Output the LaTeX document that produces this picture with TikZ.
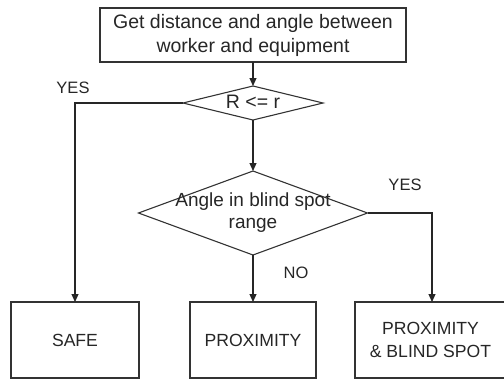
\documentclass[tikz,border=0pt]{standalone}
\usepackage{fontspec}
\setmainfont{Liberation Sans}
\usetikzlibrary{shapes.geometric,arrows.meta}
\begin{document}
\begin{tikzpicture}[x=1pt,y=-1pt,
  every node/.style={inner sep=0pt,outer sep=0pt,text=black!85},
  box/.style={draw=black!80,line width=1.1pt,rectangle},
  dia/.style={draw=black!80,line width=1.1pt,diamond},
  lbl/.style={font=\fontsize{16.5}{18}\selectfont},
  conn/.style={draw=black!85,line width=1.1pt},
  arr/.style={conn,-{Triangle[length=8pt,width=7pt]}}]
\useasboundingbox (0,0) rectangle (504,381);
\node[box,minimum width=306pt,minimum height=54pt,align=center,
  font=\fontsize{19.5}{24}\selectfont] (top) at (253,35)
  {Get distance and angle between\\worker and equipment};
\node[dia,minimum width=140pt,minimum height=34pt] (d1) at (253,103) {};
\node[font=\fontsize{19.5}{24}\selectfont] (d1t) at (253,102) {R <= r};
\node[dia,minimum width=229pt,minimum height=84pt] (d2) at (253,213) {};
\node[align=center,font=\fontsize{19}{22}\selectfont] (d2t) at (253,213)
  {Angle in blind spot\\range};
\node[box,minimum width=128pt,minimum height=76pt,font=\fontsize{17.6}{22}\selectfont]
  (safe) at (75,340) {SAFE};
\node[box,minimum width=126pt,minimum height=76pt,font=\fontsize{17.6}{22}\selectfont]
  (prox) at (253,340) {PROXIMITY};
\node[box,minimum width=151pt,minimum height=76pt,align=center,
  font=\fontsize{17.6}{23}\selectfont]
  (pbs) at (430.5,340) {PROXIMITY\\\& BLIND SPOT};
\coordinate (c1) at (75,103);
\coordinate (c2) at (432,213);
\draw[arr] (top.south) -- (d1.north);
\draw[arr] (d1.south) -- (d2.north);
\draw[arr] (d1.west) -- (c1) -- (c1 |- safe.north);
\draw[arr] (d2.east) -- (c2) -- (c2 |- pbs.north);
\draw[arr] (d2.south) -- (prox.north);
\node[lbl] (yes1) at (73,88) {YES};
\node[lbl] (yes2) at (405,185) {YES};
\node[lbl] (no) at (296,273) {NO};
\end{tikzpicture}
\end{document}
